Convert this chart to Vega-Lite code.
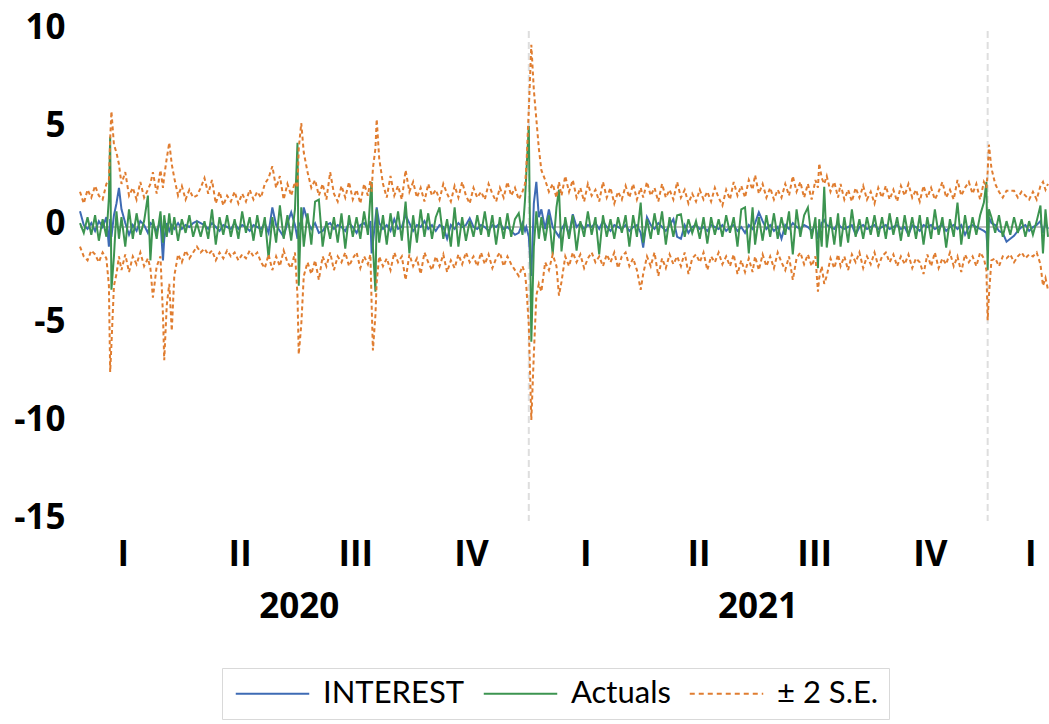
{
"$schema":"https://vega.github.io/schema/vega-lite/v6.json",
"width":968,"height":490,
"autosize":{"type":"none"},
"padding":{"left":80,"top":31,"right":1,"bottom":203},
"config":{"view":{"stroke":null},
 "axis":{"labelFont":"Open Sans","labelFontSize":35,"labelFontWeight":"bold","labelColor":"#000000","domain":false,"ticks":false,"tickSize":0,"grid":false,"labelOverlap":false,"labelFlush":false,"labelBound":false}},
"data":{"values":[
{"d":9,"i":0.8,"a":0.2,"u":1.8,"l":-1.0},
{"d":12,"i":0.1,"a":-0.3,"u":1.2,"l":-1.5},
{"d":15,"i":-0.1,"a":0.5,"u":1.9,"l":-1.7},
{"d":18,"i":0.2,"a":-0.4,"u":1.5,"l":-1.2},
{"d":21,"i":-0.2,"a":0.6,"u":2.1,"l":-1.4},
{"d":24,"i":0.3,"a":-0.7,"u":1.6,"l":-1.8},
{"d":27,"i":0.0,"a":0.4,"u":1.4,"l":-1.3},
{"d":30,"i":0.5,"a":-0.5,"u":2.2,"l":-1.6},
{"d":32,"i":-1.0,"a":1.5,"u":2.4,"l":-3.0},
{"d":33,"i":0.4,"a":4.6,"u":4.5,"l":-7.4},
{"d":34,"i":-0.5,"a":-3.2,"u":5.9,"l":-6.0},
{"d":36,"i":0.6,"a":-1.5,"u":4.2,"l":-3.0},
{"d":38,"i":1.2,"a":0.8,"u":3.8,"l":-2.4},
{"d":40,"i":2.0,"a":-0.6,"u":3.2,"l":-1.5},
{"d":42,"i":0.9,"a":0.5,"u":2.2,"l":-2.2},
{"d":45,"i":0.2,"a":-1.0,"u":2.8,"l":-1.4},
{"d":48,"i":-0.4,"a":0.9,"u":1.6,"l":-2.3},
{"d":51,"i":0.1,"a":-0.6,"u":2.0,"l":-1.5},
{"d":54,"i":-0.2,"a":0.7,"u":1.4,"l":-1.9},
{"d":57,"i":0.3,"a":-0.4,"u":2.3,"l":-1.3},
{"d":60,"i":0.1,"a":0.3,"u":1.5,"l":-2.0},
{"d":63,"i":-0.3,"a":1.6,"u":1.9,"l":-1.6},
{"d":65,"i":0.2,"a":-1.7,"u":2.2,"l":-2.1},
{"d":67,"i":0.1,"a":0.4,"u":2.8,"l":-3.6},
{"d":70,"i":-0.2,"a":-0.6,"u":1.7,"l":-2.0},
{"d":73,"i":0.3,"a":0.8,"u":2.9,"l":-1.5},
{"d":75,"i":-1.7,"a":-0.8,"u":2.0,"l":-4.5},
{"d":76,"i":-0.6,"a":0.6,"u":2.6,"l":-6.8},
{"d":78,"i":0.2,"a":-0.5,"u":3.5,"l":-4.0},
{"d":80,"i":-0.2,"a":0.7,"u":4.3,"l":-2.9},
{"d":82,"i":0.1,"a":-0.4,"u":3.2,"l":-5.3},
{"d":84,"i":-0.1,"a":0.5,"u":2.5,"l":-2.5},
{"d":87,"i":0.2,"a":-0.7,"u":1.6,"l":-1.4},
{"d":90,"i":-0.1,"a":0.4,"u":2.1,"l":-1.8},
{"d":93,"i":0.1,"a":-0.3,"u":1.4,"l":-1.2},
{"d":96,"i":0.0,"a":0.6,"u":1.9,"l":-1.6},
{"d":99,"i":0.2,"a":-0.5,"u":1.5,"l":-1.3},
{"d":102,"i":0.3,"a":0.2,"u":1.6,"l":-1.0},
{"d":105,"i":0.2,"a":-0.5,"u":2.0,"l":-1.3},
{"d":108,"i":0.1,"a":0.3,"u":2.5,"l":-1.1},
{"d":111,"i":-0.1,"a":-0.6,"u":1.7,"l":-1.4},
{"d":114,"i":0.2,"a":0.9,"u":2.4,"l":-1.2},
{"d":117,"i":0.0,"a":-0.9,"u":1.2,"l":-1.7},
{"d":120,"i":-0.2,"a":0.5,"u":1.8,"l":-1.3},
{"d":123,"i":0.1,"a":-0.4,"u":1.1,"l":-1.6},
{"d":126,"i":0.0,"a":0.6,"u":1.6,"l":-1.2},
{"d":129,"i":-0.1,"a":-0.5,"u":1.3,"l":-1.5},
{"d":132,"i":0.2,"a":0.4,"u":1.8,"l":-1.3},
{"d":135,"i":-0.1,"a":-0.6,"u":1.2,"l":-1.7},
{"d":138,"i":0.1,"a":0.8,"u":1.7,"l":-1.4},
{"d":141,"i":0.0,"a":-0.3,"u":1.3,"l":-1.6},
{"d":144,"i":-0.2,"a":0.5,"u":1.9,"l":-1.2},
{"d":147,"i":0.1,"a":-0.7,"u":1.4,"l":-1.5},
{"d":150,"i":0.0,"a":0.6,"u":1.8,"l":-1.3},
{"d":153,"i":-0.1,"a":-0.5,"u":1.5,"l":-1.8},
{"d":156,"i":0.2,"a":0.5,"u":2.2,"l":-2.1},
{"d":159,"i":-0.3,"a":-1.6,"u":2.5,"l":-1.4},
{"d":162,"i":1.0,"a":0.5,"u":3.1,"l":-2.2},
{"d":165,"i":0.1,"a":-0.8,"u":2.0,"l":-1.5},
{"d":168,"i":-0.2,"a":1.1,"u":2.6,"l":-2.0},
{"d":171,"i":-0.5,"a":-0.6,"u":1.4,"l":-1.2},
{"d":174,"i":0.2,"a":0.6,"u":2.2,"l":-1.8},
{"d":177,"i":0.75,"a":-0.7,"u":1.6,"l":-2.1},
{"d":180,"i":0.1,"a":0.9,"u":2.3,"l":-1.3},
{"d":182,"i":-0.6,"a":4.3,"u":2.0,"l":-3.5},
{"d":183,"i":0.2,"a":-3.0,"u":4.0,"l":-6.5},
{"d":185,"i":0.0,"a":1.0,"u":5.3,"l":-5.0},
{"d":187,"i":1.0,"a":-1.0,"u":3.8,"l":-2.5},
{"d":190,"i":0.3,"a":0.7,"u":2.8,"l":-1.8},
{"d":193,"i":-0.1,"a":-0.9,"u":2.0,"l":-2.4},
{"d":196,"i":0.2,"a":1.3,"u":2.4,"l":-1.7},
{"d":199,"i":-0.3,"a":1.4,"u":1.6,"l":-2.7},
{"d":202,"i":-0.2,"a":-1.0,"u":2.2,"l":-1.5},
{"d":205,"i":0.1,"a":0.3,"u":1.4,"l":-2.0},
{"d":208,"i":0.2,"a":-0.6,"u":2.8,"l":-1.3},
{"d":211,"i":-0.1,"a":0.5,"u":1.7,"l":-2.2},
{"d":214,"i":0.1,"a":-0.8,"u":1.3,"l":-1.5},
{"d":217,"i":0.0,"a":0.7,"u":2.1,"l":-1.8},
{"d":220,"i":-0.2,"a":-1.1,"u":1.5,"l":-1.3},
{"d":223,"i":0.2,"a":0.6,"u":2.3,"l":-2.0},
{"d":226,"i":0.0,"a":-0.5,"u":1.4,"l":-1.6},
{"d":229,"i":-0.3,"a":0.5,"u":1.9,"l":-1.3},
{"d":232,"i":0.1,"a":-0.6,"u":1.2,"l":-2.1},
{"d":235,"i":0.2,"a":0.8,"u":2.2,"l":-1.5},
{"d":238,"i":-0.1,"a":-0.4,"u":1.6,"l":-1.9},
{"d":240,"i":0.3,"a":1.6,"u":2.4,"l":-1.4},
{"d":241,"i":-1.35,"a":2.3,"u":1.8,"l":-4.0},
{"d":242,"i":-0.8,"a":-1.0,"u":3.0,"l":-6.3},
{"d":244,"i":0.4,"a":-3.3,"u":4.0,"l":-4.5},
{"d":245,"i":1.0,"a":0.9,"u":5.5,"l":-2.8},
{"d":247,"i":0.2,"a":-0.8,"u":3.5,"l":-1.5},
{"d":250,"i":-0.1,"a":0.6,"u":2.2,"l":-2.0},
{"d":253,"i":0.1,"a":-0.9,"u":1.5,"l":-1.6},
{"d":256,"i":-0.2,"a":0.7,"u":2.6,"l":-2.2},
{"d":259,"i":0.4,"a":-0.5,"u":1.6,"l":-1.3},
{"d":262,"i":-0.1,"a":0.8,"u":2.1,"l":-1.8},
{"d":265,"i":0.0,"a":-0.7,"u":1.4,"l":-1.5},
{"d":268,"i":0.6,"a":1.3,"u":2.9,"l":-2.7},
{"d":271,"i":0.2,"a":-1.35,"u":1.8,"l":-1.4},
{"d":274,"i":-0.2,"a":0.6,"u":2.3,"l":-2.0},
{"d":277,"i":0.1,"a":-0.8,"u":1.5,"l":-1.6},
{"d":280,"i":0.0,"a":0.9,"u":2.0,"l":-2.4},
{"d":283,"i":0.3,"a":-0.5,"u":1.3,"l":-1.3},
{"d":286,"i":-0.1,"a":0.7,"u":2.2,"l":-1.8},
{"d":289,"i":0.1,"a":-0.6,"u":1.6,"l":-2.2},
{"d":292,"i":-0.2,"a":0.5,"u":1.9,"l":-1.5},
{"d":295,"i":0.1,"a":1.0,"u":1.4,"l":-2.0},
{"d":298,"i":0.0,"a":-0.6,"u":2.2,"l":-1.4},
{"d":301,"i":-0.6,"a":0.4,"u":1.7,"l":-2.3},
{"d":304,"i":0.1,"a":-1.0,"u":1.3,"l":-1.7},
{"d":307,"i":-0.1,"a":1.0,"u":2.1,"l":-2.1},
{"d":310,"i":0.2,"a":-1.0,"u":1.5,"l":-1.4},
{"d":313,"i":0.0,"a":0.5,"u":2.3,"l":-1.9},
{"d":316,"i":0.1,"a":-0.7,"u":1.6,"l":-1.3},
{"d":319,"i":0.45,"a":0.3,"u":1.2,"l":-1.8},
{"d":322,"i":0.0,"a":-0.5,"u":2.0,"l":-1.5},
{"d":325,"i":-0.1,"a":0.6,"u":1.5,"l":-2.0},
{"d":328,"i":0.1,"a":-0.4,"u":1.8,"l":-1.3},
{"d":331,"i":0.0,"a":0.8,"u":1.4,"l":-1.9},
{"d":334,"i":-0.2,"a":-0.5,"u":2.2,"l":-1.4},
{"d":337,"i":0.1,"a":0.6,"u":1.7,"l":-2.1},
{"d":340,"i":0.0,"a":-0.9,"u":1.3,"l":-1.6},
{"d":343,"i":0.2,"a":0.5,"u":2.0,"l":-1.3},
{"d":346,"i":-0.1,"a":-0.6,"u":1.5,"l":-2.0},
{"d":349,"i":0.0,"a":0.7,"u":2.3,"l":-1.5},
{"d":352,"i":-0.2,"a":-0.5,"u":1.6,"l":-1.9},
{"d":355,"i":-0.4,"a":0.4,"u":2.0,"l":-2.2},
{"d":358,"i":-0.3,"a":0.7,"u":1.4,"l":-2.5},
{"d":361,"i":0.2,"a":-0.4,"u":1.8,"l":-2.0},
{"d":363,"i":-0.2,"a":1.4,"u":2.2,"l":-2.4},
{"d":364,"i":0.0,"a":2.7,"u":3.0,"l":-3.0},
{"d":366,"i":-0.5,"a":5.15,"u":6.0,"l":-5.0},
{"d":368,"i":-2.5,"a":-5.85,"u":9.3,"l":-9.85},
{"d":370,"i":1.2,"a":-1.0,"u":7.0,"l":-6.5},
{"d":372,"i":2.3,"a":0.8,"u":5.5,"l":-3.5},
{"d":374,"i":0.5,"a":-0.6,"u":4.0,"l":-2.9},
{"d":376,"i":0.9,"a":0.5,"u":2.9,"l":-3.3},
{"d":379,"i":-0.1,"a":-0.7,"u":2.4,"l":-1.8},
{"d":382,"i":0.9,"a":0.6,"u":1.8,"l":-2.2},
{"d":385,"i":0.0,"a":-1.4,"u":2.2,"l":-1.4},
{"d":388,"i":-0.3,"a":1.0,"u":1.5,"l":-2.0},
{"d":390,"i":-0.5,"a":1.9,"u":2.3,"l":-3.5},
{"d":392,"i":-0.1,"a":-1.25,"u":1.6,"l":-2.8},
{"d":395,"i":0.2,"a":0.5,"u":2.6,"l":-1.5},
{"d":398,"i":-0.4,"a":-0.6,"u":1.8,"l":-2.0},
{"d":401,"i":0.65,"a":0.6,"u":2.4,"l":-1.3},
{"d":404,"i":0.0,"a":-1.2,"u":1.5,"l":-1.8},
{"d":407,"i":0.2,"a":0.3,"u":2.0,"l":-1.4},
{"d":410,"i":-0.1,"a":-0.5,"u":1.3,"l":-2.1},
{"d":413,"i":0.1,"a":0.8,"u":2.2,"l":-1.6},
{"d":416,"i":0.0,"a":-0.4,"u":1.6,"l":-1.3},
{"d":419,"i":0.2,"a":0.5,"u":1.9,"l":-1.8},
{"d":422,"i":-0.1,"a":-1.4,"u":1.3,"l":-1.5},
{"d":425,"i":0.3,"a":0.6,"u":2.3,"l":-2.0},
{"d":428,"i":0.0,"a":-0.5,"u":1.5,"l":-1.4},
{"d":431,"i":-0.2,"a":0.4,"u":2.0,"l":-1.8},
{"d":434,"i":0.1,"a":-0.6,"u":1.2,"l":-1.3},
{"d":437,"i":0.0,"a":0.5,"u":1.8,"l":-2.1},
{"d":440,"i":-0.1,"a":-0.3,"u":1.4,"l":-1.5},
{"d":443,"i":0.1,"a":0.6,"u":2.1,"l":-1.3},
{"d":446,"i":-0.2,"a":-1.0,"u":1.5,"l":-2.0},
{"d":449,"i":0.0,"a":0.6,"u":2.2,"l":-1.6},
{"d":452,"i":0.1,"a":-0.5,"u":1.4,"l":-2.2},
{"d":455,"i":-0.3,"a":1.25,"u":2.0,"l":-3.2},
{"d":457,"i":-1.05,"a":-0.8,"u":1.5,"l":-2.4},
{"d":460,"i":0.5,"a":0.4,"u":2.3,"l":-1.5},
{"d":463,"i":0.1,"a":-0.6,"u":1.6,"l":-2.0},
{"d":466,"i":-0.1,"a":0.7,"u":2.0,"l":-1.3},
{"d":469,"i":0.2,"a":-0.4,"u":1.3,"l":-2.5},
{"d":472,"i":0.0,"a":0.8,"u":2.2,"l":-1.6},
{"d":475,"i":-0.2,"a":-0.9,"u":1.5,"l":-2.1},
{"d":478,"i":0.1,"a":0.5,"u":1.9,"l":-1.4},
{"d":481,"i":0.4,"a":-0.5,"u":1.4,"l":-1.9},
{"d":484,"i":-0.5,"a":0.6,"u":2.3,"l":-1.5},
{"d":487,"i":-0.6,"a":0.65,"u":1.5,"l":-2.0},
{"d":490,"i":0.1,"a":-0.5,"u":1.9,"l":-1.3},
{"d":493,"i":-0.3,"a":0.4,"u":1.2,"l":-2.4},
{"d":496,"i":0.0,"a":-0.3,"u":1.7,"l":-1.6},
{"d":499,"i":0.1,"a":0.3,"u":1.3,"l":-1.4},
{"d":502,"i":-0.1,"a":-0.6,"u":1.9,"l":-1.8},
{"d":505,"i":0.0,"a":0.5,"u":1.4,"l":-1.3},
{"d":508,"i":-0.2,"a":-0.85,"u":1.8,"l":-2.2},
{"d":511,"i":0.1,"a":0.5,"u":1.3,"l":-1.5},
{"d":514,"i":0.0,"a":-0.4,"u":2.0,"l":-1.8},
{"d":517,"i":-0.1,"a":0.4,"u":1.5,"l":-1.3},
{"d":520,"i":0.1,"a":-0.5,"u":1.1,"l":-1.9},
{"d":523,"i":-0.2,"a":0.6,"u":1.9,"l":-1.5},
{"d":526,"i":0.0,"a":-0.3,"u":1.4,"l":-2.0},
{"d":529,"i":0.1,"a":0.5,"u":2.3,"l":-1.4},
{"d":532,"i":-0.2,"a":-1.0,"u":1.6,"l":-2.4},
{"d":535,"i":0.0,"a":0.9,"u":2.1,"l":-1.7},
{"d":538,"i":-0.3,"a":1.0,"u":1.5,"l":-2.3},
{"d":541,"i":0.1,"a":-1.35,"u":2.4,"l":-1.6},
{"d":544,"i":-0.1,"a":1.0,"u":1.9,"l":-2.3},
{"d":546,"i":0.2,"a":-0.9,"u":2.65,"l":-1.5},
{"d":549,"i":0.75,"a":0.5,"u":1.7,"l":-2.2},
{"d":552,"i":0.3,"a":-0.7,"u":2.2,"l":-1.4},
{"d":555,"i":-0.1,"a":0.6,"u":1.5,"l":-2.0},
{"d":558,"i":0.1,"a":-0.5,"u":2.0,"l":-1.5},
{"d":561,"i":-0.2,"a":0.7,"u":1.4,"l":-2.1},
{"d":564,"i":0.0,"a":-0.6,"u":1.9,"l":-1.3},
{"d":567,"i":-0.6,"a":0.5,"u":1.5,"l":-1.8},
{"d":570,"i":0.1,"a":-0.4,"u":2.2,"l":-2.2},
{"d":573,"i":-0.1,"a":0.8,"u":1.6,"l":-1.5},
{"d":576,"i":0.2,"a":-1.4,"u":2.6,"l":-2.7},
{"d":579,"i":0.0,"a":0.9,"u":1.8,"l":-1.6},
{"d":582,"i":-0.1,"a":-0.5,"u":2.3,"l":-1.3},
{"d":585,"i":0.1,"a":0.6,"u":1.5,"l":-1.9},
{"d":588,"i":0.0,"a":1.0,"u":2.2,"l":-1.4},
{"d":591,"i":-0.2,"a":-0.6,"u":1.4,"l":-2.0},
{"d":594,"i":0.1,"a":0.5,"u":2.4,"l":-1.5},
{"d":596,"i":-0.6,"a":-2.1,"u":2.0,"l":-3.3},
{"d":597,"i":-0.4,"a":0.4,"u":3.25,"l":-2.6},
{"d":599,"i":0.2,"a":-1.0,"u":2.5,"l":-2.0},
{"d":601,"i":0.35,"a":2.05,"u":2.2,"l":-2.9},
{"d":603,"i":0.1,"a":-1.05,"u":2.6,"l":-2.5},
{"d":606,"i":0.0,"a":0.5,"u":1.8,"l":-1.6},
{"d":609,"i":-0.1,"a":-0.9,"u":2.3,"l":-2.1},
{"d":612,"i":0.2,"a":0.7,"u":1.5,"l":-1.4},
{"d":614,"i":0.0,"a":-1.0,"u":2.2,"l":-2.0},
{"d":617,"i":-0.1,"a":0.5,"u":1.4,"l":-1.5},
{"d":620,"i":0.0,"a":-0.8,"u":1.9,"l":-2.2},
{"d":623,"i":0.1,"a":0.9,"u":1.3,"l":-1.4},
{"d":626,"i":-0.4,"a":-0.5,"u":2.0,"l":-1.8},
{"d":629,"i":0.0,"a":0.4,"u":1.5,"l":-1.3},
{"d":632,"i":0.1,"a":-0.6,"u":2.1,"l":-2.1},
{"d":635,"i":-0.1,"a":0.5,"u":1.4,"l":-1.5},
{"d":638,"i":0.0,"a":-0.4,"u":1.8,"l":-1.9},
{"d":641,"i":0.1,"a":0.6,"u":1.2,"l":-1.3},
{"d":644,"i":-0.1,"a":-0.5,"u":2.0,"l":-2.0},
{"d":647,"i":0.0,"a":0.5,"u":1.5,"l":-1.5},
{"d":650,"i":0.1,"a":-0.6,"u":2.1,"l":-1.3},
{"d":653,"i":-0.1,"a":0.7,"u":1.4,"l":-1.8},
{"d":656,"i":0.0,"a":-0.4,"u":1.9,"l":-1.4},
{"d":659,"i":0.1,"a":0.5,"u":1.3,"l":-2.0},
{"d":662,"i":-0.1,"a":-0.7,"u":2.1,"l":-1.5},
{"d":665,"i":0.0,"a":0.6,"u":1.6,"l":-1.9},
{"d":668,"i":-0.4,"a":-0.5,"u":2.2,"l":-1.4},
{"d":671,"i":0.1,"a":0.5,"u":1.5,"l":-2.1},
{"d":674,"i":0.0,"a":-0.6,"u":1.9,"l":-1.6},
{"d":677,"i":-0.2,"a":0.6,"u":1.3,"l":-1.8},
{"d":680,"i":0.1,"a":-0.9,"u":2.1,"l":-2.4},
{"d":683,"i":0.0,"a":0.5,"u":1.5,"l":-1.4},
{"d":686,"i":0.1,"a":-0.6,"u":2.0,"l":-2.0},
{"d":689,"i":-0.1,"a":0.9,"u":1.4,"l":-1.3},
{"d":692,"i":0.0,"a":-0.4,"u":1.8,"l":-2.1},
{"d":695,"i":0.1,"a":0.5,"u":2.3,"l":-1.6},
{"d":698,"i":-0.2,"a":-1.05,"u":1.5,"l":-1.9},
{"d":701,"i":0.0,"a":0.4,"u":1.9,"l":-1.3},
{"d":704,"i":0.1,"a":-0.5,"u":1.4,"l":-2.0},
{"d":707,"i":-0.1,"a":1.25,"u":2.4,"l":-1.5},
{"d":710,"i":0.1,"a":-0.9,"u":1.6,"l":-2.3},
{"d":713,"i":-0.4,"a":0.6,"u":2.0,"l":-1.4},
{"d":716,"i":0.0,"a":-0.6,"u":2.3,"l":-1.8},
{"d":719,"i":0.1,"a":0.5,"u":1.7,"l":-1.5},
{"d":722,"i":0.0,"a":-0.4,"u":2.2,"l":-2.0},
{"d":725,"i":-0.1,"a":0.6,"u":1.4,"l":-1.3},
{"d":728,"i":-0.2,"a":1.25,"u":2.3,"l":-1.6},
{"d":730,"i":-0.3,"a":2.3,"u":2.0,"l":-2.2},
{"d":731,"i":-1.2,"a":-2.2,"u":2.8,"l":-4.75},
{"d":732,"i":0.5,"a":0.9,"u":4.2,"l":-3.5},
{"d":734,"i":0.2,"a":0.5,"u":3.0,"l":-1.7},
{"d":737,"i":0.1,"a":-0.3,"u":2.2,"l":-1.6},
{"d":740,"i":-0.2,"a":0.6,"u":1.8,"l":-2.0},
{"d":743,"i":-0.3,"a":-0.5,"u":1.5,"l":-1.5},
{"d":746,"i":-0.75,"a":0.3,"u":1.85,"l":-1.6},
{"d":749,"i":-0.6,"a":-0.4,"u":1.85,"l":-1.4},
{"d":752,"i":-0.45,"a":0.5,"u":1.85,"l":-1.8},
{"d":755,"i":-0.2,"a":-0.3,"u":1.5,"l":-1.5},
{"d":758,"i":0.0,"a":0.4,"u":1.8,"l":-1.3},
{"d":761,"i":0.1,"a":-0.5,"u":1.6,"l":-1.6},
{"d":764,"i":-0.2,"a":0.3,"u":1.4,"l":-1.4},
{"d":767,"i":0.0,"a":-0.4,"u":1.8,"l":-1.5},
{"d":770,"i":0.1,"a":0.3,"u":1.4,"l":-1.3},
{"d":773,"i":0.3,"a":1.1,"u":2.1,"l":-1.9},
{"d":775,"i":-0.3,"a":-1.35,"u":2.3,"l":-3.0},
{"d":777,"i":0.2,"a":0.9,"u":1.9,"l":-2.6},
{"d":779,"i":-0.1,"a":-0.5,"u":2.2,"l":-3.2}
]},
"layer":[
{"data":{"values":[{"z":0}]},
 "mark":{"type":"rule","color":"#c0c0c0","strokeWidth":2},
 "encoding":{"y":{"field":"z","type":"quantitative","title":null,
   "scale":{"domain":[-15,10],"nice":false,"zero":false},
   "axis":{"values":[-15,-10,-5,0,5,10],"labelExpr":"datum.value + ''","labelPadding":15,"labelOffset":-4}}}},
{"data":{"values":[{"d":366},{"d":731}]},
 "mark":{"type":"rule","color":"#dedede","strokeWidth":2,"strokeDash":[7,4]},
 "encoding":{"x":{"field":"d","type":"quantitative","title":null,
   "scale":{"domain":[9,779],"nice":false,"zero":false},
   "axis":{"orient":"bottom","values":[183,548],"labelExpr":"datum.value < 366 ? '2020' : '2021'","labelPadding":68}}}},
{"mark":{"type":"line","strokeWidth":2},
 "encoding":{
  "x":{"field":"d","type":"quantitative","title":null,"scale":{"domain":[9,779],"nice":false,"zero":false},
   "axis":{"orient":"bottom","values":[43,136,228,320,411,501,593,685,765],"labelExpr":"datum.value==43||datum.value==411||datum.value==765?'I':datum.value==136||datum.value==501?'II':datum.value==228||datum.value==593?'III':'IV'","labelPadding":16}},
  "y":{"field":"i","type":"quantitative","title":null,"scale":{"domain":[-15,10],"nice":false,"zero":false},"axis":{"values":[-15,-10,-5,0,5,10],"labelExpr":"datum.value + ''","labelPadding":15,"labelOffset":-4}},
  "color":{"datum":"INTEREST","type":"nominal",
   "scale":{"domain":["INTEREST","Actuals","± 2 S.E."],"range":["#3e6bb4","#3c9450","#e07d30"]},
   "legend":{"orient":"none","legendX":142,"legendY":637,"direction":"horizontal","title":null,
     "symbolType":"M-3,0L3,0","symbolSize":600,"symbolStrokeWidth":2,"symbolOffset":25,
     "labelFont":"Lato","labelFontSize":31,"labelColor":"#000000","labelOffset":35,
     "columnPadding":14,"padding":10,"strokeColor":"#d9d9d9",
     "encode":{"symbols":{"update":{"strokeDash":{"signal":"datum.value === '± 2 S.E.' ? [5,4] : [1,0]"}}}}}}}},
{"mark":{"type":"line","strokeWidth":2},
 "encoding":{
  "x":{"field":"d","type":"quantitative","title":null,"axis":null,"scale":{"domain":[9,779],"nice":false,"zero":false}},
  "y":{"field":"a","type":"quantitative","title":null},
  "color":{"datum":"Actuals","type":"nominal"}}},
{"mark":{"type":"line","strokeWidth":2,"strokeDash":[4,3]},
 "encoding":{
  "x":{"field":"d","type":"quantitative","title":null,"axis":null,"scale":{"domain":[9,779],"nice":false,"zero":false}},
  "y":{"field":"u","type":"quantitative","title":null},
  "color":{"datum":"± 2 S.E.","type":"nominal"}}},
{"mark":{"type":"line","strokeWidth":2,"strokeDash":[4,3]},
 "encoding":{
  "x":{"field":"d","type":"quantitative","title":null,"axis":null,"scale":{"domain":[9,779],"nice":false,"zero":false}},
  "y":{"field":"l","type":"quantitative","title":null},
  "color":{"datum":"± 2 S.E.","type":"nominal"}}}
],
"resolve":{"axis":{"x":"independent"}}
}
